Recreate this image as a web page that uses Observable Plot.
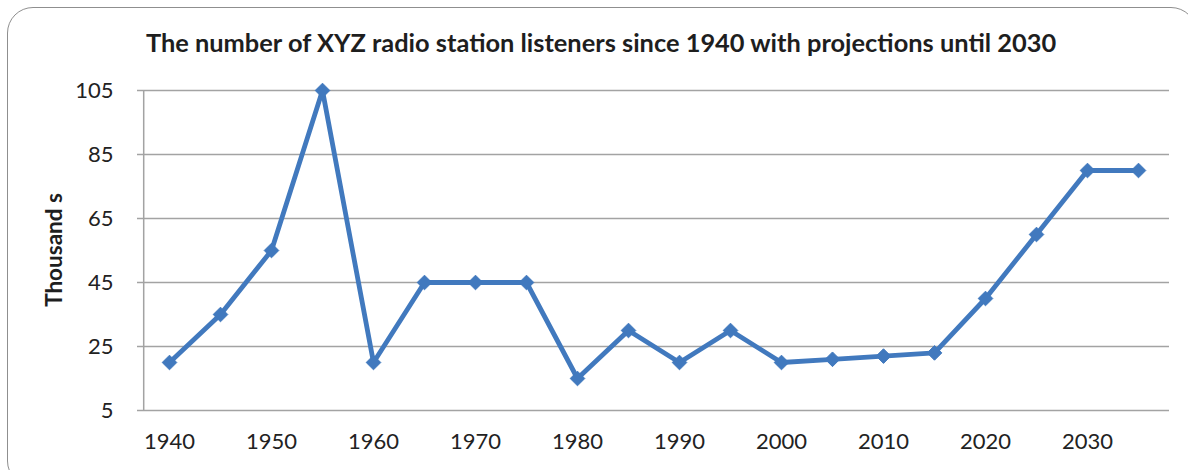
<!DOCTYPE html>
<html>
<head>
<meta charset="utf-8">
<script src="https://cdn.jsdelivr.net/npm/d3@7"></script>
<script src="https://cdn.jsdelivr.net/npm/@observablehq/plot@0.6"></script>
<style>
  html, body { margin: 0; padding: 0; background: #fff; }
  #wrap { position: relative; width: 1188px; height: 470px; overflow: hidden; }
  #border { position: absolute; left: 7px; top: 7px; width: 1190px; height: 480px;
            border: 1.5px solid #8f8f8f; border-radius: 26px; box-sizing: border-box; }
  #title { position: absolute; left: 0; width: 1202px; top: 27px; line-height: 30px; text-align: center;
           font-family: Lato, "Open Sans", sans-serif; font-weight: bold; font-size: 25.4px; color: #1e1e1e; white-space: nowrap; }
  #ylabel { position: absolute; left: 54px; top: 250px; transform: translate(-50%, -50%) rotate(-90deg);
            font-family: Lato, "Open Sans", sans-serif; font-weight: bold; font-size: 22.5px; line-height: 24px; color: #1e1e1e; white-space: nowrap; }
  #chart { position: absolute; left: 0; top: 0; }
</style>
</head>
<body>
<div id="wrap">
  <div id="border"></div>
  <div id="chart"></div>
  <div id="title">The number of XYZ radio station listeners since 1940 with projections until 2030</div>
  <div id="ylabel">Thousand s</div>
</div>
<script>
const years = [1940,1945,1950,1955,1960,1965,1970,1975,1980,1985,1990,1995,2000,2005,2010,2015,2020,2025,2030,2035];
const listeners = [20,35,55,105,20,45,45,45,15,30,20,30,20,21,22,23,40,60,80,80];
const yTicks = [5,25,45,65,85,105];
const xTickLabels = [1940,1950,1960,1970,1980,1990,2000,2010,2020,2030];

const data = years.map((y, i) => ({year: y, value: listeners[i]}));
const color = "#4179be";
const step = (1188 - 137 - 19) / years.length;

const plot = Plot.plot({
  width: 1188,
  height: 470,
  marginTop: 90,
  marginBottom: 60,
  marginLeft: 137,
  marginRight: 19,
  style: {fontFamily: "Lato, 'Open Sans', sans-serif", fontSize: "22px", color: "#222", background: "transparent"},
  x: {type: "point", domain: years, padding: 0.5, label: null},
  y: {domain: [5, 105], label: null},
  marks: [
    Plot.ruleY(yTicks, {stroke: "#a3a3a3", strokeWidth: 1.5, strokeOpacity: 1}),
    Plot.ruleX([years[0]], {dx: -step / 2, stroke: "#a3a3a3", strokeWidth: 1.5, y1: 5, y2: 105}),
    Plot.axisY({ticks: yTicks, tickSize: 0, tickPadding: 24, fontSize: 22, label: null}),
    Plot.axisX({ticks: xTickLabels, tickSize: 0, tickPadding: 23, fontSize: 22, label: null, tickFormat: d => String(d)}),
    Plot.line(data, {x: "year", y: "value", stroke: color, strokeWidth: 4.8}),
    Plot.dot(data, {x: "year", y: "value", symbol: "diamond2", r: 6.6, fill: color, stroke: color, strokeWidth: 1})
  ]
});
document.getElementById("chart").appendChild(plot);
</script>
</body>
</html>
